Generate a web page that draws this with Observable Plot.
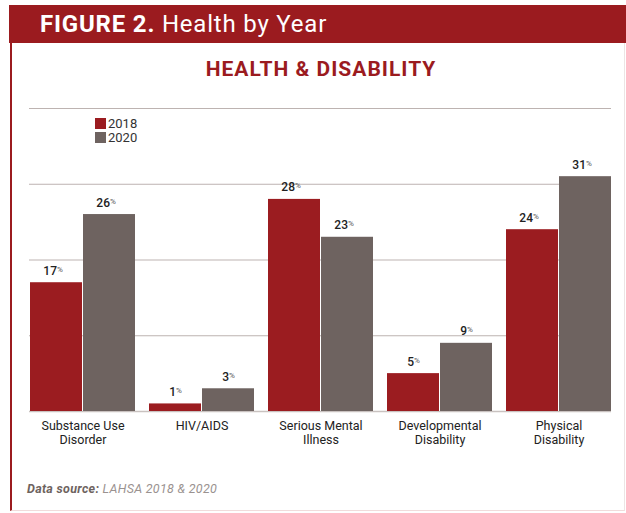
<!DOCTYPE html>
<html><head><meta charset="utf-8">
<script src="https://cdn.jsdelivr.net/npm/d3@7"></script>
<script src="https://cdn.jsdelivr.net/npm/@observablehq/plot@0.6"></script>
<style>
body{margin:0;background:#fff;}
#wrap{position:relative;width:626px;height:513px;overflow:hidden;font-family:Roboto,sans-serif;background:#fff;}
#frame{position:absolute;left:10px;top:43px;width:612px;height:467px;border-left:2px solid #9b1b1f;border-right:1px solid #ece4e4;border-bottom:1px solid #f1dcdc;}
#header{position:absolute;left:9px;top:5px;width:617px;height:38px;background:#9b1b1f;color:#fff;font-size:24px;line-height:39px;white-space:nowrap;letter-spacing:0.8px;}
#header span.b{font-weight:700;padding-left:31px;}
#sub{position:absolute;left:16px;top:58px;width:610px;text-align:center;color:#9b1b1f;font-size:21px;font-weight:700;line-height:22px;letter-spacing:1px;}
#chart{position:absolute;left:0;top:0;}
#legend{position:absolute;left:95px;top:116px;font-size:13px;color:#333;}
#legend .it{display:flex;align-items:center;height:14px;}
#legend .sw{width:11px;height:11px;margin-right:2px;}
#src{position:absolute;left:27px;top:481px;font-size:12.5px;font-style:italic;color:#9a9290;letter-spacing:0.3px;}
#src b{color:#6e6360;}
</style>
</head><body>
<div id="wrap">
  <div id="frame"></div>
  <div id="header"><span class="b">FIGURE 2.</span> Health by Year</div>
  <div id="sub">HEALTH &amp; DISABILITY</div>
  <div id="chart"></div>
  <div id="legend"></div>
  <div id="src"><b>Data source:</b> LAHSA 2018 &amp; 2020</div>
</div>
<script>
const categories = ["Substance Use\nDisorder","HIV/AIDS","Serious Mental\nIllness","Developmental\nDisability","Physical\nDisability"];
const years = ["2018","2020"];
const values2018 = [17,1,28,5,24];
const values2020 = [26,3,23,9,31];
const colors = ["#9b1c20","#6e6360"];
const gridTicks = [10,20,30,40];

const rows2018 = categories.map((c,i)=>({cat:c, v:values2018[i]}));
const rows2020 = categories.map((c,i)=>({cat:c, v:values2020[i]}));

const labelFont = "Roboto, sans-serif";
const chart = Plot.plot({
  width: 626,
  height: 460,
  marginTop: 108,
  marginBottom: 49,
  marginLeft: 29,
  marginRight: 15,
  style: {background: "transparent", fontFamily: labelFont},
  x: {domain: categories, paddingInner: 0.12, paddingOuter: 0, axis: null},
  y: {domain: [0, 40], axis: null},
  marks: [
    Plot.ruleY(gridTicks, {stroke: "#bdb3b1", strokeWidth: 1}),
    Plot.ruleY([0], {stroke: "#c9c2c0", strokeWidth: 1.5}),
    Plot.barY(rows2018, {x: "cat", y: "v", fill: colors[0], insetRight: 53}),
    Plot.barY(rows2020, {x: "cat", y: "v", fill: colors[1], insetLeft: 53}),
    Plot.text(rows2018, {x: "cat", y: "v", text: d => String(d.v), textAnchor: "end", lineAnchor: "bottom", dx: -26, dy: -8, fontSize: 12, fontWeight: 500, fill: "#222"}),
    Plot.text(rows2018, {x: "cat", y: "v", text: d => "%", textAnchor: "start", lineAnchor: "bottom", dx: -26, dy: -11, fontSize: 8, fill: "#555"}),
    Plot.text(rows2020, {x: "cat", y: "v", text: d => String(d.v), textAnchor: "end", lineAnchor: "bottom", dx: 27, dy: -8, fontSize: 12, fontWeight: 500, fill: "#222"}),
    Plot.text(rows2020, {x: "cat", y: "v", text: d => "%", textAnchor: "start", lineAnchor: "bottom", dx: 27, dy: -11, fontSize: 8, fill: "#555"}),
    Plot.text(categories, {x: d => d, y: () => 0, text: d => d, lineAnchor: "top", dy: 8, fontSize: 12.5, lineHeight: 1.16, fill: "#222"})
  ]
});
document.getElementById("chart").appendChild(chart);

const legend = document.getElementById("legend");
years.forEach((y,i)=>{
  const it = document.createElement("div"); it.className = "it";
  const sw = document.createElement("div"); sw.className = "sw"; sw.style.background = colors[i];
  const t = document.createElement("span"); t.textContent = y;
  it.appendChild(sw); it.appendChild(t); legend.appendChild(it);
});
</script>
</body></html>
